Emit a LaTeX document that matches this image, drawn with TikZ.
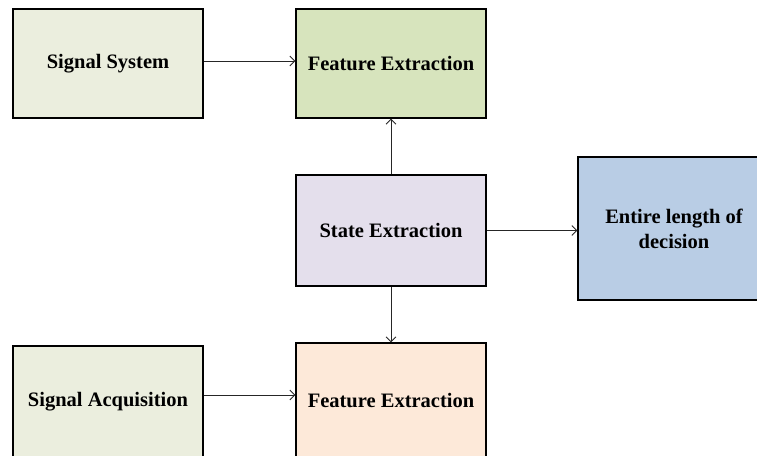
\documentclass[tikz,border=0pt]{standalone}
\usepackage{fontspec}
\setmainfont{Liberation Serif}
\usetikzlibrary{arrows.meta}
\definecolor{cSS}{HTML}{EBEEDE}
\definecolor{cFE}{HTML}{D7E4BD}
\definecolor{cST}{HTML}{E4DFEC}
\definecolor{cEN}{HTML}{B9CDE5}
\definecolor{cFB}{HTML}{FDE9D9}
\tikzset{
  blk/.style={draw=black, line width=1.3pt, rectangle, inner sep=0pt, align=center,
    font=\fontsize{20.5}{25}\selectfont\bfseries},
  conn/.style={draw=black!85, line width=0.8pt, -{Straight Barb[length=5pt,width=10pt,line width=0.8pt]}}
}
\begin{document}
\begin{tikzpicture}[x=1pt,y=-1pt]
\useasboundingbox (0,0) rectangle (757,455);
\clip (0,0) rectangle (757,455);
\node[blk, fill=cSS, minimum width=190, minimum height=109] (ss) at (108,63.5) {Signal System};
\node[blk, fill=cFE, minimum width=190, minimum height=109] (fe1) at (391,63.5) {Feature Extraction};
\node[blk, fill=cST, minimum width=190, minimum height=111] (st) at (391,230.5) {State Extraction};
\node[blk, fill=cEN, minimum width=192, minimum height=143] (en) at (674,228.5) {Entire length of\\decision};
\node[blk, fill=cSS, minimum width=190, minimum height=112] (sa) at (108,402) {Signal Acquisition};
\node[blk, fill=cFB, minimum width=190, minimum height=116] (fe2) at (391,401) {Feature Extraction};
\draw[conn] ([yshift=2.5pt]ss.east) -- ([yshift=2.5pt]ss.east -| fe1.west);
\draw[conn] (st.north) -- (fe1.south);
\draw[conn] (st.east) -- (st.east -| en.west);
\draw[conn] (st.south) -- (fe2.north);
\draw[conn] ([yshift=7pt]sa.east) -- ([yshift=7pt]sa.east -| fe2.west);
\end{tikzpicture}
\end{document}
